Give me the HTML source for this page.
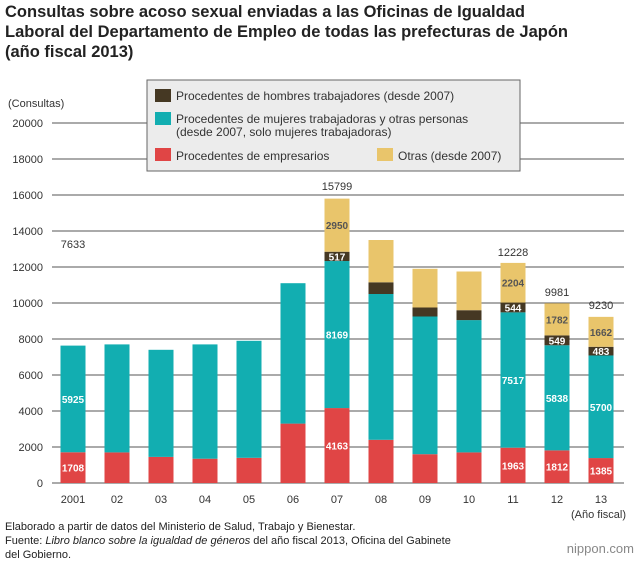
<!DOCTYPE html>
<html><head><meta charset="utf-8"><style>
body{margin:0;background:#fff;width:640px;height:560px;overflow:hidden;font-family:"Liberation Sans",sans-serif}
</style></head><body>
<svg width="640" height="560" xmlns="http://www.w3.org/2000/svg" font-family="Liberation Sans, sans-serif">
<text x="5" y="17" font-size="16.5" font-weight="bold" fill="#222">Consultas sobre acoso sexual enviadas a las Oficinas de Igualdad</text>
<text x="5" y="37" font-size="16.5" font-weight="bold" fill="#222">Laboral del Departamento de Empleo de todas las prefecturas de Japón</text>
<text x="5" y="57" font-size="16.5" font-weight="bold" fill="#222">(año fiscal 2013)</text>
<text x="8" y="107" font-size="11" fill="#333">(Consultas)</text>
<g stroke="#555" stroke-width="1">
<line x1="52" y1="123" x2="624" y2="123"/><line x1="52" y1="159" x2="624" y2="159"/>
<line x1="52" y1="195" x2="624" y2="195"/><line x1="52" y1="231" x2="624" y2="231"/>
<line x1="52" y1="267" x2="624" y2="267"/><line x1="52" y1="303" x2="624" y2="303"/>
<line x1="52" y1="339" x2="624" y2="339"/><line x1="52" y1="375" x2="624" y2="375"/>
<line x1="52" y1="411" x2="624" y2="411"/><line x1="52" y1="447" x2="624" y2="447"/>
<line x1="52" y1="483" x2="624" y2="483"/>
</g>
<g font-size="11" fill="#333" text-anchor="end">
<text x="43" y="127">20000</text><text x="43" y="163">18000</text><text x="43" y="199">16000</text>
<text x="43" y="235">14000</text><text x="43" y="271">12000</text><text x="43" y="307">10000</text>
<text x="43" y="343">8000</text><text x="43" y="379">6000</text><text x="43" y="415">4000</text>
<text x="43" y="451">2000</text><text x="43" y="487">0</text>
</g>
<rect x="147" y="80" width="373" height="91" fill="#ececec" stroke="#666"/>
<rect x="155" y="89" width="16" height="13" fill="#453823"/>
<text x="176" y="100" font-size="12" fill="#333">Procedentes de hombres trabajadores (desde 2007)</text>
<rect x="155" y="112" width="16" height="13" fill="#12aeb1"/>
<text x="176" y="123" font-size="12" fill="#333">Procedentes de mujeres trabajadoras y otras personas</text>
<text x="176" y="136" font-size="12" fill="#333">(desde 2007, solo mujeres trabajadoras)</text>
<rect x="155" y="148" width="16" height="13" fill="#e04545"/>
<text x="176" y="160" font-size="12" fill="#333">Procedentes de empresarios</text>
<rect x="377" y="148" width="16" height="13" fill="#e9c56b"/>
<text x="398" y="160" font-size="12" fill="#333">Otras (desde 2007)</text>
<g>
<rect x="60.5" y="452.26" width="25" height="30.74" fill="#e04545"/><rect x="60.5" y="345.61" width="25" height="106.65" fill="#12aeb1"/>
<rect x="104.5" y="452.4" width="25" height="30.6" fill="#e04545"/><rect x="104.5" y="344.4" width="25" height="108" fill="#12aeb1"/>
<rect x="148.5" y="456.9" width="25" height="26.1" fill="#e04545"/><rect x="148.5" y="349.8" width="25" height="107.1" fill="#12aeb1"/>
<rect x="192.5" y="458.7" width="25" height="24.3" fill="#e04545"/><rect x="192.5" y="344.4" width="25" height="114.3" fill="#12aeb1"/>
<rect x="236.5" y="457.8" width="25" height="25.2" fill="#e04545"/><rect x="236.5" y="340.8" width="25" height="117" fill="#12aeb1"/>
<rect x="280.5" y="423.6" width="25" height="59.4" fill="#e04545"/><rect x="280.5" y="283.2" width="25" height="140.4" fill="#12aeb1"/>
<rect x="324.5" y="408.07" width="25" height="74.93" fill="#e04545"/><rect x="324.5" y="261.03" width="25" height="147.04" fill="#12aeb1"/><rect x="324.5" y="251.72" width="25" height="9.31" fill="#453823"/><rect x="324.5" y="198.62" width="25" height="53.1" fill="#e9c56b"/>
<rect x="368.5" y="439.8" width="25" height="43.2" fill="#e04545"/><rect x="368.5" y="294" width="25" height="145.8" fill="#12aeb1"/><rect x="368.5" y="282.3" width="25" height="11.7" fill="#453823"/><rect x="368.5" y="240" width="25" height="42.3" fill="#e9c56b"/>
<rect x="412.5" y="454.2" width="25" height="28.8" fill="#e04545"/><rect x="412.5" y="316.5" width="25" height="137.7" fill="#12aeb1"/><rect x="412.5" y="307.5" width="25" height="9" fill="#453823"/><rect x="412.5" y="268.8" width="25" height="38.7" fill="#e9c56b"/>
<rect x="456.5" y="452.4" width="25" height="30.6" fill="#e04545"/><rect x="456.5" y="320.1" width="25" height="132.3" fill="#12aeb1"/><rect x="456.5" y="310.2" width="25" height="9.9" fill="#453823"/><rect x="456.5" y="271.5" width="25" height="38.7" fill="#e9c56b"/>
<rect x="500.5" y="447.67" width="25" height="35.33" fill="#e04545"/><rect x="500.5" y="312.36" width="25" height="135.31" fill="#12aeb1"/><rect x="500.5" y="302.57" width="25" height="9.79" fill="#453823"/><rect x="500.5" y="262.9" width="25" height="39.67" fill="#e9c56b"/>
<rect x="544.5" y="450.38" width="25" height="32.62" fill="#e04545"/><rect x="544.5" y="345.3" width="25" height="105.08" fill="#12aeb1"/><rect x="544.5" y="335.42" width="25" height="9.88" fill="#453823"/><rect x="544.5" y="303.34" width="25" height="32.08" fill="#e9c56b"/>
<rect x="588.5" y="458.07" width="25" height="24.93" fill="#e04545"/><rect x="588.5" y="355.47" width="25" height="102.6" fill="#12aeb1"/><rect x="588.5" y="346.78" width="25" height="8.69" fill="#453823"/><rect x="588.5" y="316.86" width="25" height="29.92" fill="#e9c56b"/>
</g>
<g font-size="10" font-weight="bold" text-anchor="middle" fill="#fff">
<text x="73" y="471.6">1708</text><text x="73" y="402.9">5925</text>
<text x="337" y="449.5">4163</text><text x="337" y="338.5">8169</text><text x="337" y="260.4">517</text>
<text x="513" y="469.3">1963</text><text x="513" y="384">7517</text><text x="513" y="311.5">544</text>
<text x="557" y="470.7">1812</text><text x="557" y="401.8">5838</text><text x="557" y="344.4">549</text>
<text x="601" y="474.5">1385</text><text x="601" y="410.8">5700</text><text x="601" y="355.1">483</text>
</g>
<g font-size="10" font-weight="bold" text-anchor="middle" fill="#555">
<text x="337" y="229.2">2950</text><text x="513" y="286.7">2204</text><text x="557" y="323.4">1782</text><text x="601" y="335.8">1662</text>
</g>
<g font-size="11" fill="#333" text-anchor="middle">
<text x="73" y="503">2001</text><text x="117" y="503">02</text><text x="161" y="503">03</text>
<text x="205" y="503">04</text><text x="249" y="503">05</text><text x="293" y="503">06</text>
<text x="337" y="503">07</text><text x="381" y="503">08</text><text x="425" y="503">09</text>
<text x="469" y="503">10</text><text x="513" y="503">11</text><text x="557" y="503">12</text>
<text x="601" y="503">13</text>
<text x="73" y="248">7633</text><text x="337" y="190">15799</text><text x="513" y="256">12228</text>
<text x="557" y="296">9981</text><text x="601" y="309">9230</text>
</g>
<text x="626" y="518" font-size="11" fill="#333" text-anchor="end">(Año fiscal)</text>
<text x="5" y="530" font-size="11" fill="#222">Elaborado a partir de datos del Ministerio de Salud, Trabajo y Bienestar.</text>
<text x="5" y="544" font-size="11" fill="#222">Fuente: <tspan font-style="italic">Libro blanco sobre la igualdad de géneros</tspan> del año fiscal 2013, Oficina del Gabinete</text>
<text x="5" y="558" font-size="11" fill="#222">del Gobierno.</text>
<text x="634" y="553" font-size="13" fill="#888" text-anchor="end">nippon.com</text>
</svg>
</body></html>
